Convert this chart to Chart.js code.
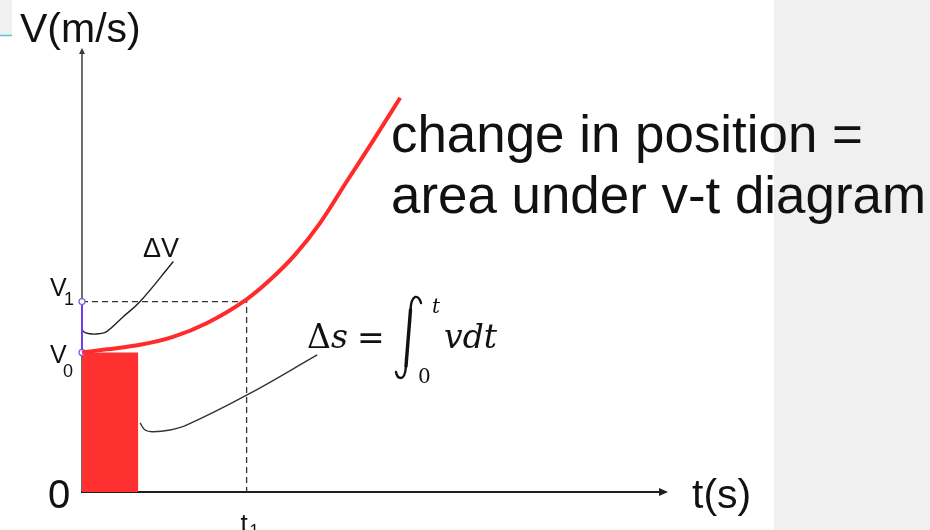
<!DOCTYPE html>
<html>
<head>
<meta charset="utf-8">
<script src="https://cdn.jsdelivr.net/npm/chart.js@4.4.1/dist/chart.umd.min.js"></script>
<style>
  html, body { margin: 0; padding: 0; background: #fff; }
  #vt { display: block; }
</style>
</head>
<body>
<canvas id="vt" width="930" height="530"></canvas>
<script>
// v-t curve (t in units of t1, v in units of v0)
const tCurve = [0, 0.152, 0.353, 0.553, 0.76, 1, 1.143, 1.295, 1.447, 1.611, 1.769, 1.933]
const vCurve = [1, 1.022, 1.054, 1.111, 1.211, 1.38, 1.52, 1.7, 1.928, 2.229, 2.516, 2.824]

const v0 = 1
const v1 = 1.364
const t1 = 1

// shaded strip under the curve
const stripT = [0, 0.342]
const stripV = [1, 1]

// leader lines for the labels
const dvLeaderT = [0, 0.008, 0.049, 0.099, 0.15, 0.249, 0.353, 0.555]
const dvLeaderV = [1.183, 1.149, 1.133, 1.133, 1.149, 1.254, 1.364, 1.651]
const dsLeaderT = [0.353, 0.383, 0.432, 0.535, 0.638, 1.003, 1.429]
const dsLeaderV = [0.495, 0.444, 0.432, 0.444, 0.48, 0.695, 0.982]

const tMax = 3.56
const vMax = 3.18

function pts(ts, vs) {
    return ts.map((t, i) => ({ x: t, y: vs[i] }))
}

const background = {
    id: "background",
    beforeDraw(chart) {
        const ctx = chart.ctx
        ctx.save()
        ctx.fillStyle = "#fff"
        ctx.fillRect(0, 0, chart.width, chart.height)
        ctx.fillStyle = "#f0f0f0"
        ctx.fillRect(774, 0, chart.width - 774, chart.height)
        ctx.fillRect(0, 0, 12, 35)
        ctx.strokeStyle = "#55c4de"
        ctx.lineWidth = 1.5
        ctx.beginPath()
        ctx.moveTo(0, 35.5)
        ctx.lineTo(12, 35.5)
        ctx.stroke()
        ctx.restore()
    }
}

function arrowHead(ctx, x, y, dx, dy) {
    // dx,dy is the unit direction the arrow points to
    const len = 9, half = 4
    ctx.beginPath()
    ctx.moveTo(x, y)
    ctx.lineTo(x - dx * len - dy * half, y - dy * len + dx * half)
    ctx.lineTo(x - dx * len + dy * half, y - dy * len - dx * half)
    ctx.closePath()
    ctx.fill()
}

const axes = {
    id: "axes",
    beforeDatasetsDraw(chart) {
        const ctx = chart.ctx
        const xs = chart.scales.x, ys = chart.scales.y
        const ox = xs.getPixelForValue(0), oy = ys.getPixelForValue(0)
        const xEnd = xs.getPixelForValue(tMax), yEnd = ys.getPixelForValue(vMax)
        ctx.save()
        ctx.strokeStyle = "#1e1e1e"
        ctx.fillStyle = "#1e1e1e"
        ctx.lineWidth = 2
        ctx.beginPath()
        ctx.moveTo(ox - 1, oy)
        ctx.lineTo(xEnd - 6, oy)
        ctx.stroke()
        arrowHead(ctx, xEnd, oy, 1, 0)
        ctx.strokeStyle = "#3a3a3a"
        ctx.fillStyle = "#3a3a3a"
        ctx.lineWidth = 1.5
        ctx.beginPath()
        ctx.moveTo(ox, oy)
        ctx.lineTo(ox, yEnd + 4)
        ctx.stroke()
        const w = 3
        ctx.beginPath()
        ctx.moveTo(ox, yEnd)
        ctx.lineTo(ox - w, yEnd + 6)
        ctx.lineTo(ox + w, yEnd + 6)
        ctx.closePath()
        ctx.fill()
        ctx.restore()
    }
}

const labels = {
    id: "labels",
    afterDraw(chart) {
        const ctx = chart.ctx
        const xs = chart.scales.x, ys = chart.scales.y
        const ox = xs.getPixelForValue(0), oy = ys.getPixelForValue(0)
        const y0 = ys.getPixelForValue(v0), y1 = ys.getPixelForValue(v1)
        const xt1 = xs.getPixelForValue(t1)
        ctx.save()
        ctx.fillStyle = "#111"
        ctx.textBaseline = "alphabetic"
        ctx.textAlign = "left"
        const sans = "'Liberation Sans', Arial, sans-serif"

        ctx.font = "41px " + sans
        ctx.fillText("V(m/s)", 20, 42)
        ctx.fillText("t(s)", xs.getPixelForValue(tMax) + 24, oy + 16)
        ctx.font = "40px " + sans
        ctx.fillText("0", ox - 34, oy + 16)

        // axis value marks
        ctx.font = "25px " + sans
        ctx.fillText("V", ox - 32, y1 - 6)
        ctx.fillText("V", ox - 32, y0 + 11)
        ctx.font = "18px " + sans
        ctx.fillText("1", ox - 18, y1 + 3)
        ctx.fillText("0", ox - 19, y0 + 25)
        ctx.font = "26px " + sans
        ctx.fillText("t", xt1 - 6, oy + 40)
        ctx.font = "17px " + sans
        ctx.fillText("1", xt1 + 3, oy + 44)

        ctx.font = "27px " + sans
        ctx.fillText("\u0394V", 143, 257)

        // caption, slightly widened
        ctx.save()
        ctx.translate(391, 0)
        ctx.scale(1.037, 1)
        ctx.font = "51px " + sans
        ctx.fillText("change in position =", 0, 152)
        ctx.fillText("area under v-t diagram", 0, 213)
        ctx.restore()

        // Δs = ∫0^t v dt
        const serif = "'DejaVu Serif', serif"
        ctx.font = "33px " + serif
        ctx.fillText("\u0394", 307, 348)
        ctx.font = "italic 33px " + serif
        ctx.fillText("s", 331, 348)
        ctx.font = "33px " + serif
        ctx.fillText("=", 357, 349)
        ctx.font = "italic 20px " + serif
        ctx.fillText("t", 432, 313)
        ctx.font = "20px " + serif
        ctx.fillText("0", 418, 383)
        ctx.font = "italic 33px " + serif
        ctx.fillText("vdt", 444, 348)

        // integral sign
        ctx.strokeStyle = "#111"
        ctx.lineCap = "round"
        ctx.lineWidth = 2.4
        ctx.beginPath()
        ctx.moveTo(421, 303)
        ctx.quadraticCurveTo(419, 296, 415, 297)
        ctx.quadraticCurveTo(411, 299, 410.5, 310)
        ctx.stroke()
        ctx.lineWidth = 3.4
        ctx.beginPath()
        ctx.moveTo(410.5, 310)
        ctx.lineTo(406, 366)
        ctx.stroke()
        ctx.lineWidth = 2.4
        ctx.beginPath()
        ctx.moveTo(406, 366)
        ctx.quadraticCurveTo(405, 378, 401, 378)
        ctx.quadraticCurveTo(397, 378, 396, 372)
        ctx.stroke()
        ctx.restore()
    }
}

new Chart(document.querySelector("#vt"), {
    type: "scatter",
    data: {
        datasets: [
            {
                data: pts(tCurve, vCurve),
                showLine: true,
                borderColor: "#ff2b2b",
                borderWidth: 4,
                cubicInterpolationMode: "monotone",
                pointRadius: 0,
                order: 0
            },
            {
                data: pts(stripT, stripV),
                showLine: true,
                borderWidth: 0,
                backgroundColor: "#ff3030",
                fill: "origin",
                pointRadius: 0,
                order: 6
            },
            {
                data: [{ x: 0, y: v1 }, { x: t1, y: v1 }, { x: t1, y: 0 }],
                showLine: true,
                borderColor: "#333",
                borderWidth: 1.3,
                borderDash: [6, 4],
                pointRadius: 0,
                order: 5
            },
            {
                data: pts(dvLeaderT, dvLeaderV),
                showLine: true,
                borderColor: "#222",
                borderWidth: 1.4,
                tension: 0.4,
                pointRadius: 0,
                order: 3
            },
            {
                data: pts(dsLeaderT, dsLeaderV),
                showLine: true,
                borderColor: "#333",
                borderWidth: 1.4,
                tension: 0.4,
                pointRadius: 0,
                order: 3
            },
            {
                data: [{ x: 0, y: v0 }, { x: 0, y: v1 }],
                showLine: true,
                borderColor: "#6b3cf0",
                borderWidth: 2,
                pointRadius: 3,
                pointBorderWidth: 1.2,
                pointBackgroundColor: "#fff",
                pointBorderColor: "#7a55f0",
                order: 1
            }
        ]
    },
    options: {
        responsive: false,
        devicePixelRatio: 1,
        animation: false,
        clip: false,
        layout: { padding: { left: 82, right: 262, top: 48, bottom: 38 } },
        scales: {
            x: { type: "linear", min: 0, max: tMax, display: false },
            y: { type: "linear", min: 0, max: vMax, display: false }
        },
        plugins: {
            legend: { display: false },
            tooltip: { enabled: false }
        }
    },
    plugins: [background, axes, labels]
})
</script>
</body>
</html>
